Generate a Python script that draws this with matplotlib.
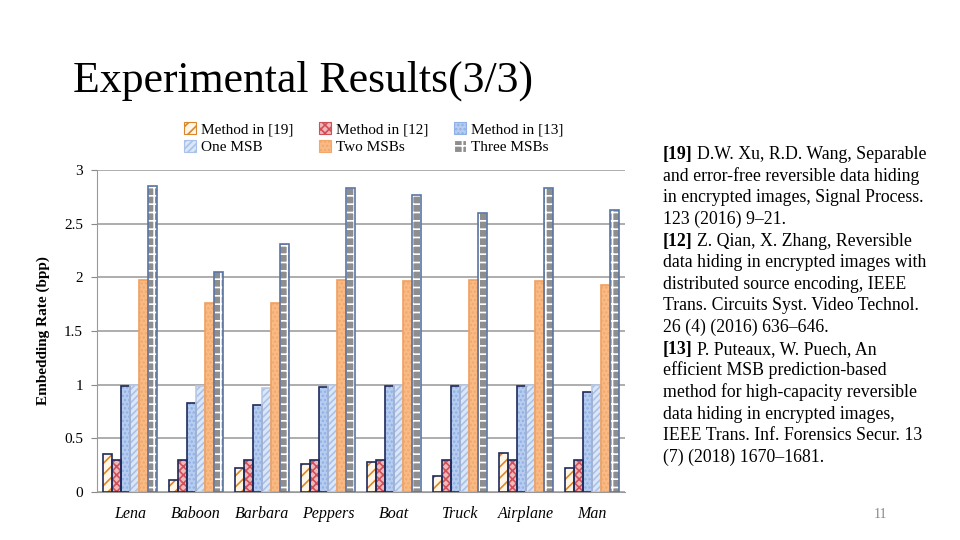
import numpy as np
import matplotlib
matplotlib.use("Agg")
import matplotlib.pyplot as plt
from matplotlib.patches import Patch

plt.rcParams['font.family'] = ['Liberation Serif', 'DejaVu Serif']
plt.rcParams['hatch.linewidth'] = 1.2

images = ["Lena", "Baboon", "Barbara", "Peppers", "Boat", "Truck", "Airplane", "Man"]
method19 = [0.35, 0.11, 0.22, 0.26, 0.28, 0.15, 0.36, 0.22]
method12 = [0.30, 0.30, 0.30, 0.30, 0.30, 0.30, 0.30, 0.30]
method13 = [0.99, 0.83, 0.81, 0.98, 0.99, 0.99, 0.99, 0.93]
one_msb = [1.00, 0.99, 0.97, 1.00, 1.00, 1.00, 1.00, 1.00]
two_msbs = [1.98, 1.76, 1.76, 1.98, 1.97, 1.98, 1.97, 1.93]
three_msbs = [2.85, 2.05, 2.31, 2.83, 2.77, 2.60, 2.83, 2.63]

series = [
    ("Method in [19]", method19),
    ("Method in [12]", method12),
    ("Method in [13]", method13),
    ("One MSB", one_msb),
    ("Two MSBs", two_msbs),
    ("Three MSBs", three_msbs),
]

# face, hatch colour, hatch, outline
styles = [
    ("#fff6e8", "#d9862c", "///", "#1f2a5a"),
    ("#f2b8b8", "#d0505a", "xxxx", "#1f2a5a"),
    ("#b7cdf0", "#8fb0e6", "....", "#1f2a5a"),
    ("#dbe6f7", "#a9c2ea", "/////", "#b8c8e6"),
    ("#f8bb86", "#f5a76a", "....", "#f0a060"),
    ("#8e8e8e", "#ffffff", "++", "#5a76a6"),
]

refs = [
    ("[19]", "D.W. Xu, R.D. Wang, Separable"),
    ("", "and error-free reversible data hiding"),
    ("", "in encrypted images, Signal Process."),
    ("", "123 (2016) 9\u201321."),
    ("[12]", "Z. Qian, X. Zhang, Reversible"),
    ("", "data hiding in encrypted images with"),
    ("", "distributed source encoding, IEEE"),
    ("", "Trans. Circuits Syst. Video Technol."),
    ("", "26 (4) (2016) 636\u2013646."),
    ("[13]", "P. Puteaux, W. Puech, An"),
    ("", "efficient MSB prediction-based"),
    ("", "method for high-capacity reversible"),
    ("", "data hiding in encrypted images,"),
    ("", "IEEE Trans. Inf. Forensics Secur. 13"),
    ("", "(7) (2018) 1670\u20131681."),
]

fig = plt.figure(figsize=(9.6, 5.4), dpi=100)
ax = fig.add_axes([0.101, 0.089, 0.55, 0.596])

x = np.arange(len(images))
w = 0.138
for i, ((label, vals), (face, hcol, hatch, edge)) in enumerate(zip(series, styles)):
    pos = x + (i - 2.5) * w
    # hatch layer, then outline on top
    ax.bar(pos, vals, w, color=face, edgecolor=hcol, hatch=hatch, linewidth=0, zorder=3)
    ax.bar(pos, vals, w, fill=False, edgecolor=edge, linewidth=1.2, zorder=4)

ax.set_xlim(-0.5, len(images) - 0.5)
ax.set_ylim(0, 3)
ax.set_yticks(np.arange(0, 3.01, 0.5))
ax.set_yticklabels(["0", "0.5", "1", "1.5", "2", "2.5", "3"], fontsize=11)
ax.set_xticks(x)
ax.set_xticklabels(images, fontsize=11.5, style="italic")
ax.tick_params(axis='x', length=0, pad=10)
ax.tick_params(axis='y', length=4, color="#888888", pad=6)
ax.grid(axis='y', color="#a0a0a0", linewidth=1.2, zorder=0)
for s in ["top", "right"]:
    ax.spines[s].set_visible(False)
ax.spines["left"].set_color("#999999")
ax.spines["bottom"].set_color("#999999")
ax.set_ylabel("Embedding Rate (bpp)", fontsize=11, fontweight="bold", labelpad=10)

handles = [Patch(facecolor=f, edgecolor=h, hatch=ht, linewidth=0.8) for f, h, ht, e in styles]
labels = [s[0] for s in series]
order = [0, 3, 1, 4, 2, 5]
fig.legend([handles[k] for k in order], [labels[k] for k in order], ncol=3,
           loc="upper left", bbox_to_anchor=(0.185, 0.785), frameon=False,
           fontsize=11, handlelength=0.8, handleheight=0.8, handletextpad=0.3,
           columnspacing=1.7, labelspacing=0.25, borderaxespad=0)

fig.text(0.076, 0.85, "Experimental Results(3/3)", fontsize=31.5, va="center", ha="left")

renderer = fig.canvas.get_renderer()
y0 = 1 - 159 / 540
dy = 21.64 / 540
for k, (bold, rest) in enumerate(refs):
    xx = 663 / 960
    yy = y0 - k * dy
    if bold:
        t = fig.text(xx, yy, bold, fontsize=12.8, fontweight="bold", va="baseline")
        xx += (t.get_window_extent(renderer).width + 4) / 960
    fig.text(xx, yy, rest, fontsize=12.8, va="baseline")

fig.text(880 / 960, 1 - 515 / 540, "11", fontsize=10, color="#8a8a8a", ha="center", va="center")

fig.savefig("out.png", dpi=100)
